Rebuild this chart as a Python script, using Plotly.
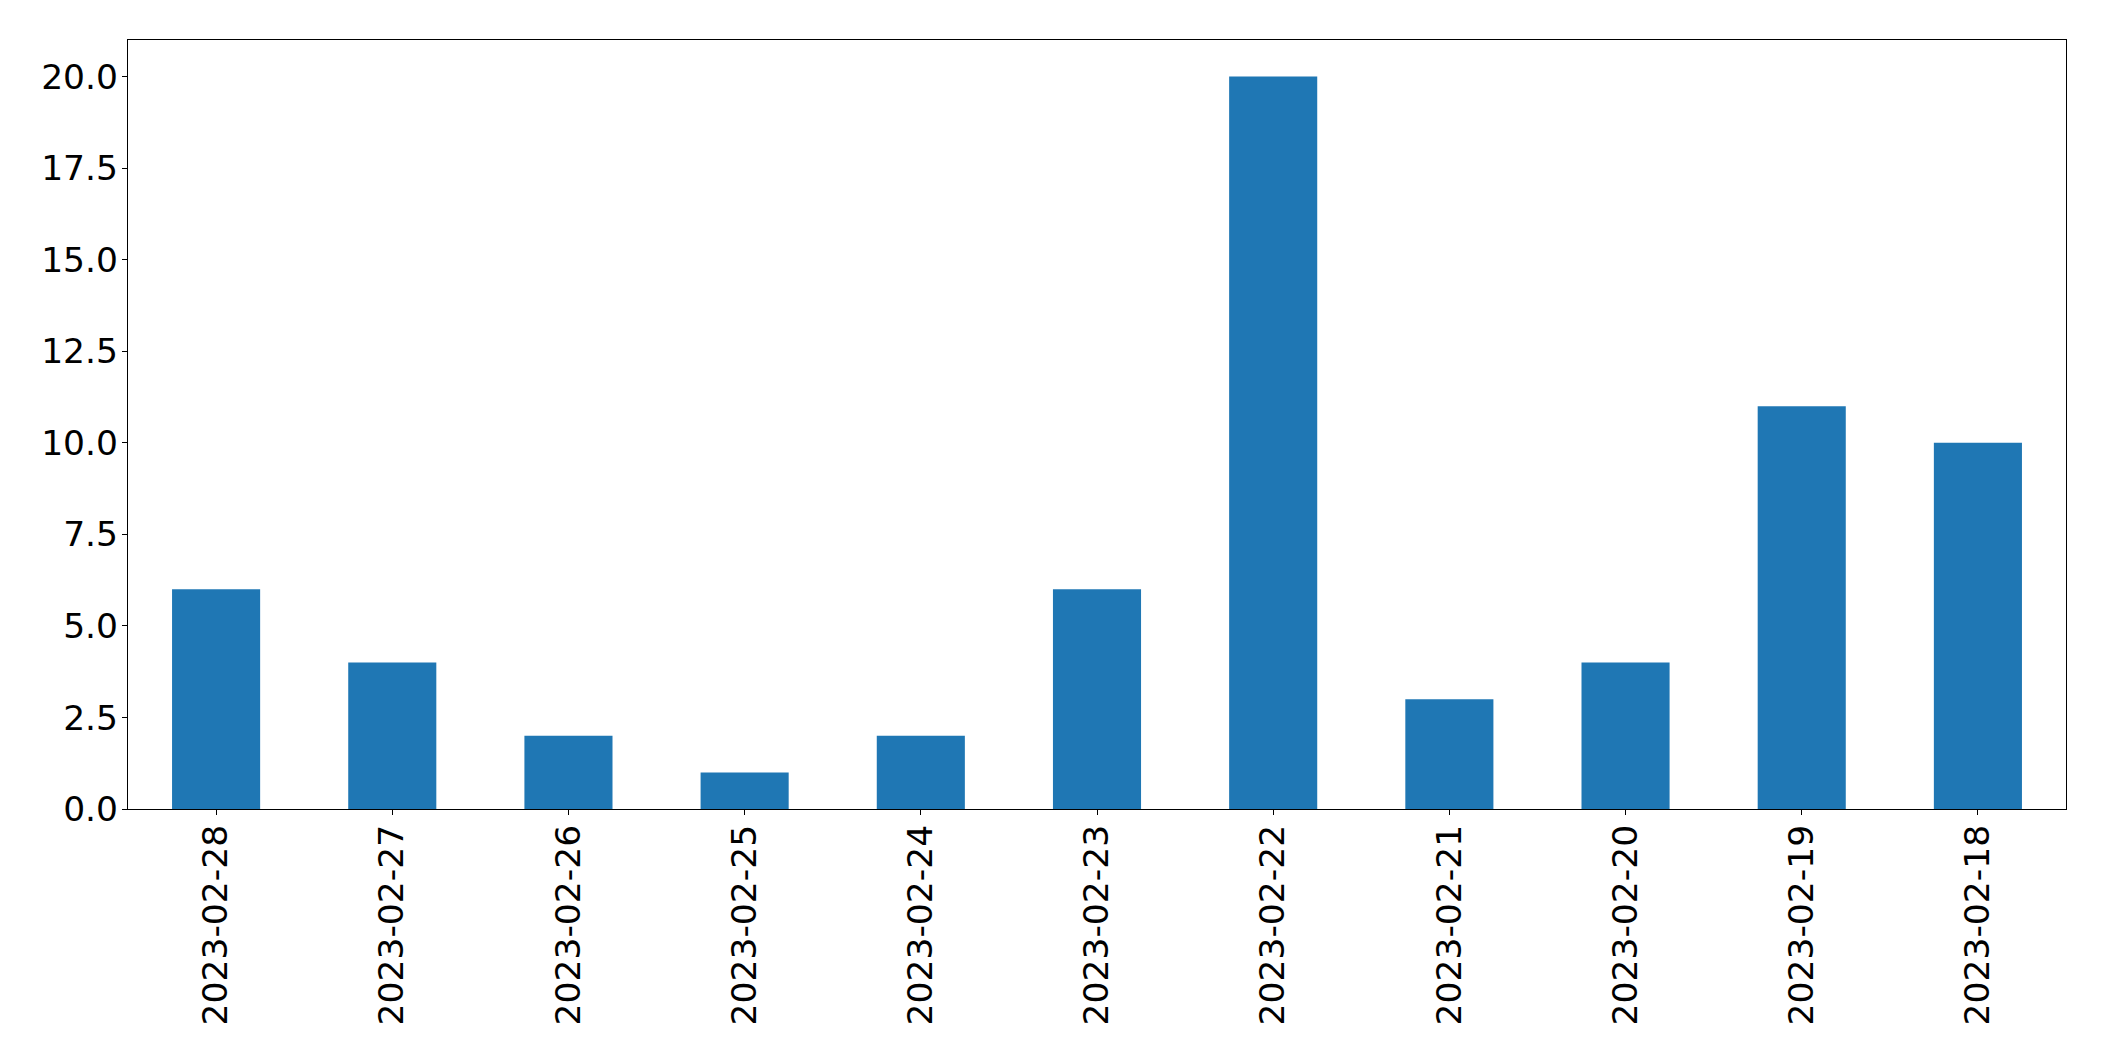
import plotly.graph_objects as go

dates = ["2023-02-28", "2023-02-27", "2023-02-26", "2023-02-25", "2023-02-24",
         "2023-02-23", "2023-02-22", "2023-02-21", "2023-02-20", "2023-02-19", "2023-02-18"]
counts = [6, 4, 2, 1, 2, 6, 20, 3, 4, 11, 10]
y_ticks = [0, 2.5, 5, 7.5, 10, 12.5, 15, 17.5, 20]
y_tick_labels = ["0.0", "2.5", "5.0", "7.5", "10.0", "12.5", "15.0", "17.5", "20.0"]

fig = go.Figure(go.Bar(x=dates, y=counts, width=0.5, marker=dict(color="#1f77b4", line=dict(width=0))))

# page body has 8px default margin; figure sized to fit inside viewport
fig.update_layout(
    width=2088, height=1045,
    margin=dict(l=119.5, r=30.3, t=31.5, b=244, pad=0, autoexpand=False),
    paper_bgcolor="white", plot_bgcolor="white",
    font=dict(family="DejaVu Sans", size=34.5, color="black"),
    showlegend=False,
)
fig.update_xaxes(
    type="category", range=[-0.5, 10.5], tickangle=-90, automargin=False,
    showline=True, linecolor="black", linewidth=1.2, mirror=True,
    ticks="outside", ticklen=5, tickwidth=1.2, tickcolor="black",
    showgrid=False, zeroline=False, ticklabelstandoff=-4,
)
fig.update_yaxes(
    range=[0, 21], tickvals=y_ticks, ticktext=y_tick_labels, automargin=False,
    showline=True, linecolor="black", linewidth=1.2, mirror=True,
    ticks="outside", ticklen=5, tickwidth=1.2, tickcolor="black",
    showgrid=False, zeroline=False, ticklabelstandoff=-3,
)

fig.write_html("out.html")
